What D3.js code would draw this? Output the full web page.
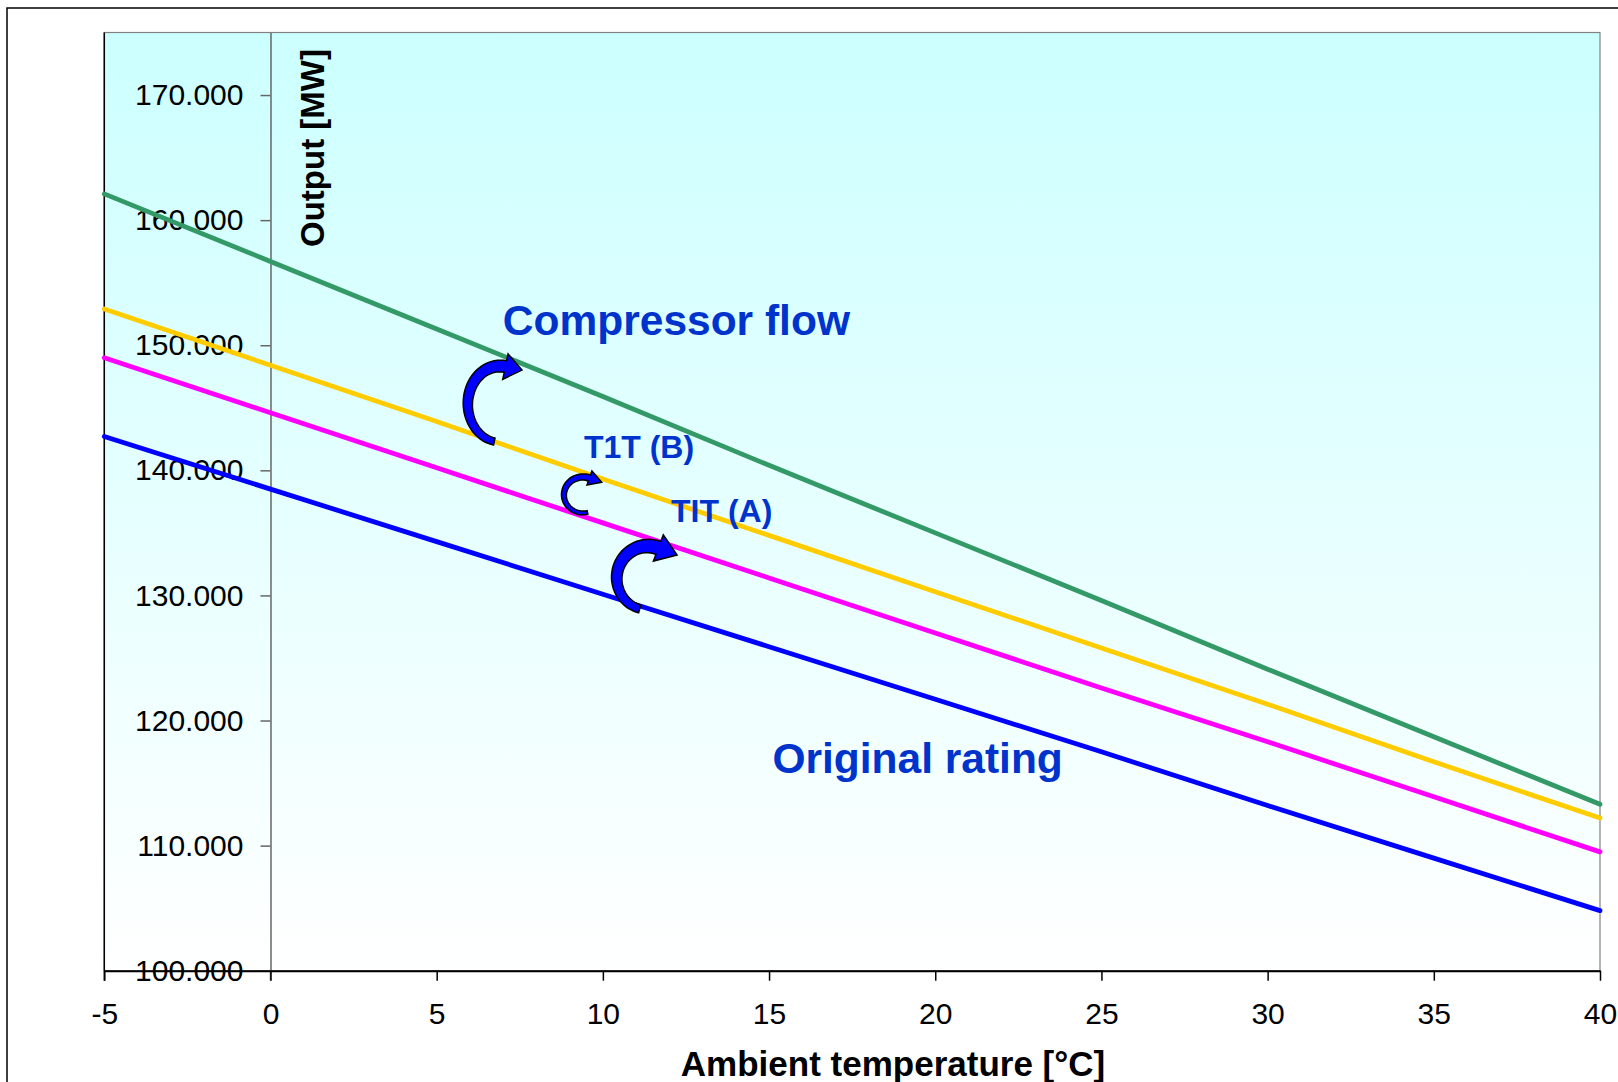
<!DOCTYPE html>
<html>
<head>
<meta charset="utf-8">
<script src="https://cdn.jsdelivr.net/npm/d3@7"></script>
<style>
  body { margin: 0; background: #fff; }
  svg { display: block; font-family: "Liberation Sans", Arial, sans-serif; }
</style>
</head>
<body>
<svg id="chart" width="1618" height="1082"></svg>
<script>
// ----------------------------
// DATA
// ----------------------------
const temps = [-5, 0, 5, 10, 15, 20, 25, 30, 35, 40];
const compressorFlow = [162.1, 156.7, 151.3, 145.9, 140.4, 135.0, 129.6, 124.1, 118.7, 113.3];
const t1tB = [152.9, 148.4, 143.9, 139.3, 134.8, 130.3, 125.8, 121.3, 116.7, 112.2];
const titA = [149.0, 144.6, 140.2, 135.8, 131.4, 127.0, 122.6, 118.3, 113.9, 109.5];
const originalRating = [142.7, 138.5, 134.3, 130.1, 125.9, 121.7, 117.5, 113.2, 109.0, 104.8];
const yTicks = [100, 110, 120, 130, 140, 150, 160, 170];

const seriesNames = ["Compressor flow", "T1T (B)", "TIT (A)", "Original rating"];
const seriesColors = ["#339966", "#FFCC00", "#FF00FF", "#0000FF"];

// annotation labels (data units)
const labelText = ["Compressor flow", "T1T (B)", "TIT (A)", "Original rating"];
const labelT = [6.99, 9.43, 12.05, 15.1];
const labelV = [150.82, 140.98, 135.87, 115.8];
const labelSize = [42.5, 32, 32, 42.5];

// curved arrows: centre in data units
const arrowCT = [6.9, 9.4, 11.35];
const arrowCV = [145.3, 138.03, 131.39];

const svg = d3.select("#chart");
const W = 1618, H = 1082;
const plot = { left: 104.3, right: 1600, top: 32.5, bottom: 970.7 };

const x = d3.scaleLinear().domain([-5, 40]).range([plot.left, plot.right]);
const y = d3.scaleLinear().domain([100, 175]).range([plot.bottom, plot.top]);

// outer frame
svg.append("rect")
  .attr("x", 7).attr("y", 8)
  .attr("width", W + 50).attr("height", H + 50)
  .attr("fill", "#fff").attr("stroke", "#000").attr("stroke-width", 1.5);

// background gradient
const grad = svg.append("defs").append("linearGradient")
  .attr("id", "bg").attr("x1", 0).attr("y1", 0).attr("x2", 0).attr("y2", 1);
grad.append("stop").attr("offset", "0%").attr("stop-color", "#CCFFFF");
grad.append("stop").attr("offset", "100%").attr("stop-color", "#FFFFFF");

svg.append("rect")
  .attr("x", plot.left).attr("y", plot.top)
  .attr("width", plot.right - plot.left).attr("height", plot.bottom - plot.top)
  .attr("fill", "url(#bg)").attr("stroke", "#808080").attr("stroke-width", 1.2);

svg.append("line")
  .attr("x1", plot.left).attr("x2", plot.left)
  .attr("y1", plot.top).attr("y2", plot.bottom + 10)
  .attr("stroke", "#000").attr("stroke-width", 1.5);

// ----------------------------
// AXES
// ----------------------------
const yAxisG = svg.append("g")
  .attr("transform", `translate(${x(0)},0)`)
  .call(d3.axisLeft(y).tickValues(yTicks).tickFormat(d3.format(".3f"))
    .tickSize(10).tickPadding(17).tickSizeOuter(0));
yAxisG.select(".domain").attr("stroke", "#666").attr("stroke-width", 1.5);
yAxisG.selectAll(".tick line").attr("stroke", "#666").attr("stroke-width", 1.5);
yAxisG.selectAll("text").attr("font-size", 30).attr("fill", "#000")
  .attr("font-family", "'Liberation Sans', Arial, sans-serif");

// y axis line extends below the x axis like a tick
svg.append("line")
  .attr("x1", x(0)).attr("x2", x(0))
  .attr("y1", plot.bottom).attr("y2", plot.bottom + 10)
  .attr("stroke", "#666").attr("stroke-width", 1.5);

const xAxisG = svg.append("g")
  .attr("transform", `translate(0,${plot.bottom})`)
  .call(d3.axisBottom(x).tickValues(temps).tickFormat(d => String(d))
    .tickSize(10).tickPadding(22).tickSizeOuter(0));
xAxisG.select(".domain").attr("stroke", "#000").attr("stroke-width", 2);
xAxisG.selectAll(".tick line").attr("stroke", "#000").attr("stroke-width", 1.5);
xAxisG.selectAll("text").attr("font-size", 30).attr("fill", "#000")
  .attr("font-family", "'Liberation Sans', Arial, sans-serif");

// axis titles
svg.append("text")
  .attr("transform", `translate(324,${(48.5 + 247.5) / 2}) rotate(-90)`)
  .attr("text-anchor", "middle")
  .attr("font-size", 33).attr("font-weight", "bold")
  .text("Output [MW]");

svg.append("text")
  .attr("x", 893).attr("y", 1076)
  .attr("text-anchor", "middle")
  .attr("font-size", 35).attr("font-weight", "bold")
  .text("Ambient temperature [°C]");

// ----------------------------
// LINES
// ----------------------------
const allSeries = [compressorFlow, t1tB, titA, originalRating];
const line = d3.line().x((d, i) => x(temps[i])).y(d => y(d));

svg.append("g").selectAll("path")
  .data(allSeries)
  .join("path")
  .attr("d", line)
  .attr("fill", "none")
  .attr("stroke", (d, i) => seriesColors[i])
  .attr("stroke-width", 4.8)
  .attr("stroke-linecap", "round");

// ----------------------------
// ANNOTATIONS
// ----------------------------
const arrowShape = [
  { rx: 32, ry: 38, t0: 100, t1: 280, w0: 7, w1: 12, head: 17, hw: 13 },
  { rx: 19, ry: 18, t0: 76, t1: 290, w0: 3.5, w1: 6.5, head: 13, hw: 7.5 },
  { rx: 31, ry: 32, t0: 105, t1: 290, w0: 8, w1: 14, head: 20, hw: 14 }
];

function arrowPath(i) {
  const s = arrowShape[i];
  const cx = x(arrowCT[i]), cy = y(arrowCV[i]);
  const n = 40, outer = [], inner = [];
  const rad = Math.PI / 180;
  let pEnd, nEnd;
  for (let k = 0; k <= n; k++) {
    const t = (s.t0 + (s.t1 - s.t0) * k / n) * rad;
    const w = s.w0 + (s.w1 - s.w0) * k / n;
    const px = cx + s.rx * Math.cos(t), py = cy + s.ry * Math.sin(t);
    let nx = Math.cos(t) / s.rx, ny = Math.sin(t) / s.ry;
    const l = Math.hypot(nx, ny); nx /= l; ny /= l;
    outer.push([px + nx * w / 2, py + ny * w / 2]);
    inner.push([px - nx * w / 2, py - ny * w / 2]);
    if (k === n) { pEnd = [px, py]; nEnd = [nx, ny]; }
  }
  const t1 = s.t1 * rad;
  let tx = -s.rx * Math.sin(t1), ty = s.ry * Math.cos(t1);
  const tl = Math.hypot(tx, ty); tx /= tl; ty /= tl;
  const tip = [pEnd[0] + tx * s.head, pEnd[1] + ty * s.head];
  const hOut = [pEnd[0] + nEnd[0] * s.hw, pEnd[1] + nEnd[1] * s.hw];
  const hIn = [pEnd[0] - nEnd[0] * s.hw, pEnd[1] - nEnd[1] * s.hw];
  const pts = outer.concat([hOut, tip, hIn], inner.reverse());
  return "M" + pts.map(p => p[0].toFixed(1) + "," + p[1].toFixed(1)).join("L") + "Z";
}

svg.append("g").selectAll("path")
  .data(arrowShape)
  .join("path")
  .attr("d", (d, i) => arrowPath(i))
  .attr("fill", "#0000FF")
  .attr("stroke", "#000")
  .attr("stroke-width", 1.5)
  .attr("stroke-linejoin", "miter");

svg.append("g").selectAll("text")
  .data(labelText)
  .join("text")
  .attr("x", (d, i) => x(labelT[i]))
  .attr("y", (d, i) => y(labelV[i]))
  .attr("font-size", (d, i) => labelSize[i])
  .attr("font-weight", "bold")
  .attr("fill", "#0033CC")
  .text(d => d);
</script>
</body>
</html>
